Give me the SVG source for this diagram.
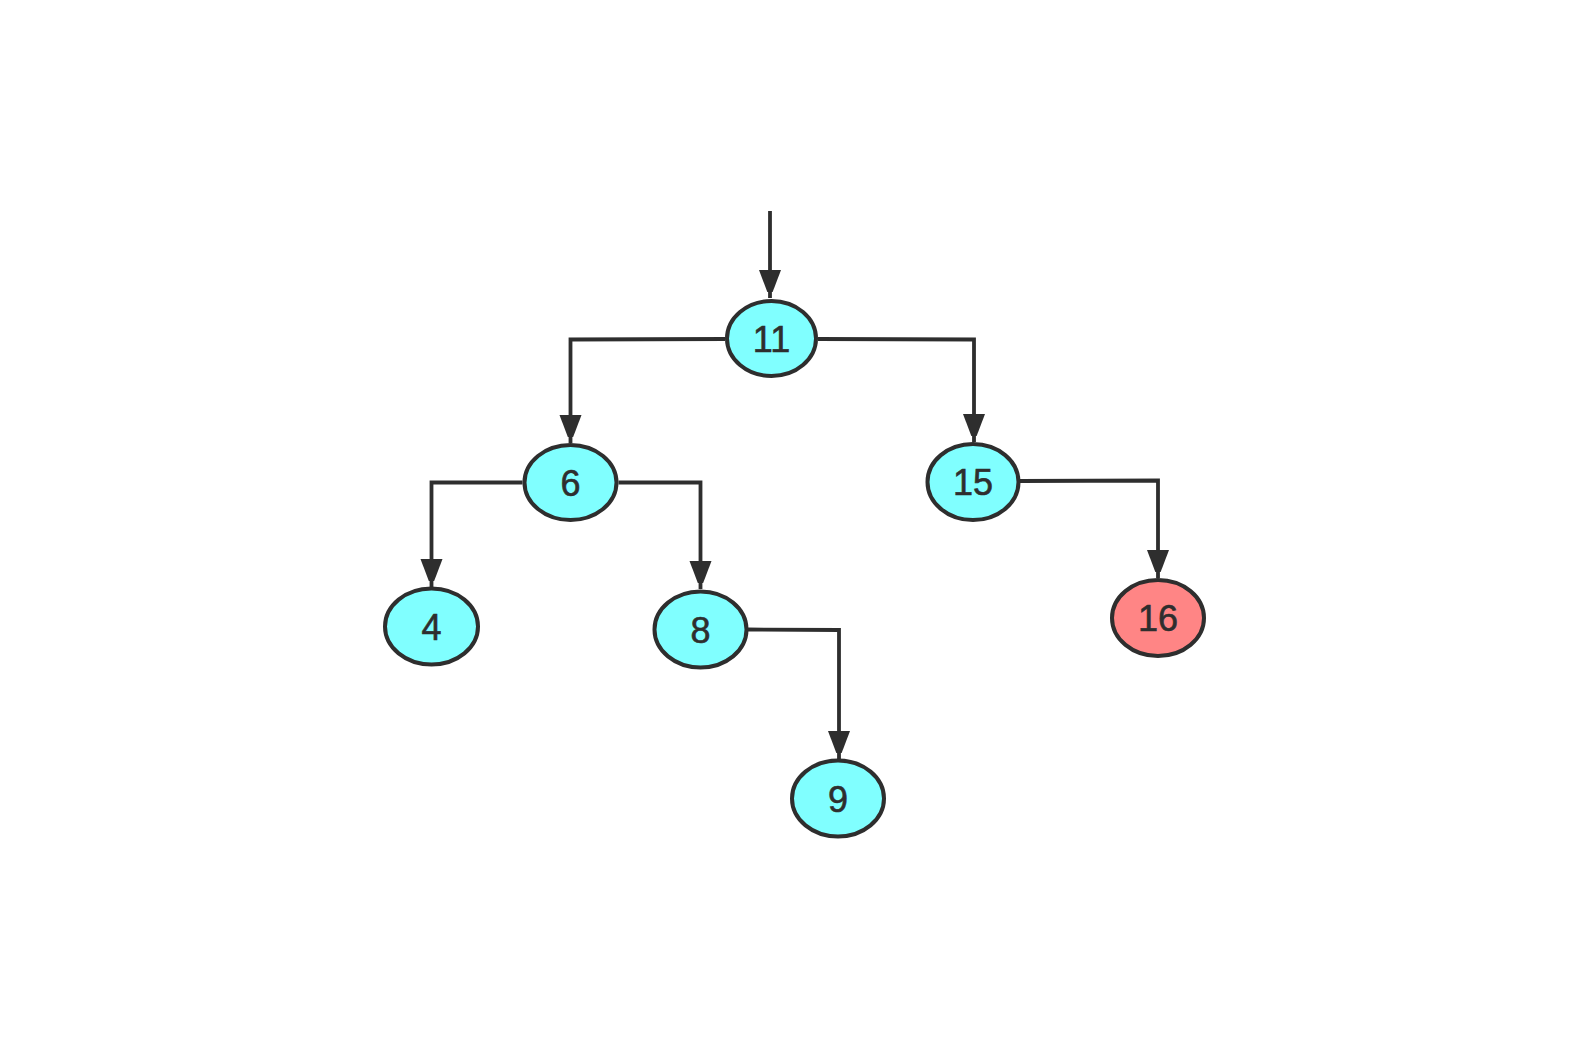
<svg xmlns="http://www.w3.org/2000/svg" width="1592" height="1038" viewBox="0 0 1592 1038">
<style>
.node ellipse{stroke:#2e2e2e;stroke-width:4;}
.cyan{fill:#80ffff;}
.red{fill:#ff8585;}
.node text{font-family:"Liberation Sans",Arial,sans-serif;font-size:36px;fill:#2e2e2e;stroke:#2e2e2e;stroke-width:0.6;text-anchor:middle;}
.edge{fill:none;stroke:#2e2e2e;stroke-width:3.8;stroke-linejoin:miter;marker-end:url(#arr);}
</style>
<defs>
<marker id="arr" markerUnits="userSpaceOnUse" markerWidth="22" markerHeight="32" viewBox="0 0 22 32" refX="28" refY="11" orient="auto">
<path d="M0,0 L29,11 L0,22 Z" fill="#2e2e2e"/>
</marker>
</defs>
<rect width="1592" height="1038" fill="#ffffff"/>
<g id="connectors">
<path class="edge" d="M770,211 L770,298"/>
<path class="edge" d="M725,339 L570.5,339.5 L570.5,443"/>
<path class="edge" d="M818,339 L974,339.5 L974,442"/>
<path class="edge" d="M522.5,482.5 L431.5,482.5 L431.5,587"/>
<path class="edge" d="M618.5,482.5 L700.5,482.5 L700.5,589"/>
<path class="edge" d="M748,629.5 L839,630 L839,759"/>
<path class="edge" d="M1020,481 L1158,480.5 L1158,578"/>
</g>
<g id="n11" class="node"><ellipse class="cyan" cx="771.5" cy="338.5" rx="44.5" ry="37.5"/><text x="771.5" y="351.5">11</text></g>
<g id="n6" class="node"><ellipse class="cyan" cx="570.5" cy="482.5" rx="46" ry="37.5"/><text x="570.5" y="495.5">6</text></g>
<g id="n15" class="node"><ellipse class="cyan" cx="973" cy="482" rx="45.5" ry="38"/><text x="973" y="495">15</text></g>
<g id="n4" class="node"><ellipse class="cyan" cx="431.5" cy="626.5" rx="46.5" ry="38"/><text x="431.5" y="639.5">4</text></g>
<g id="n8" class="node"><ellipse class="cyan" cx="700.5" cy="629.5" rx="46" ry="38"/><text x="700.5" y="642.5">8</text></g>
<g id="n16" class="node"><ellipse class="red" cx="1158" cy="618" rx="46" ry="38"/><text x="1158" y="631">16</text></g>
<g id="n9" class="node"><ellipse class="cyan" cx="838" cy="798.5" rx="46" ry="38"/><text x="838" y="811.5">9</text></g>
</svg>
